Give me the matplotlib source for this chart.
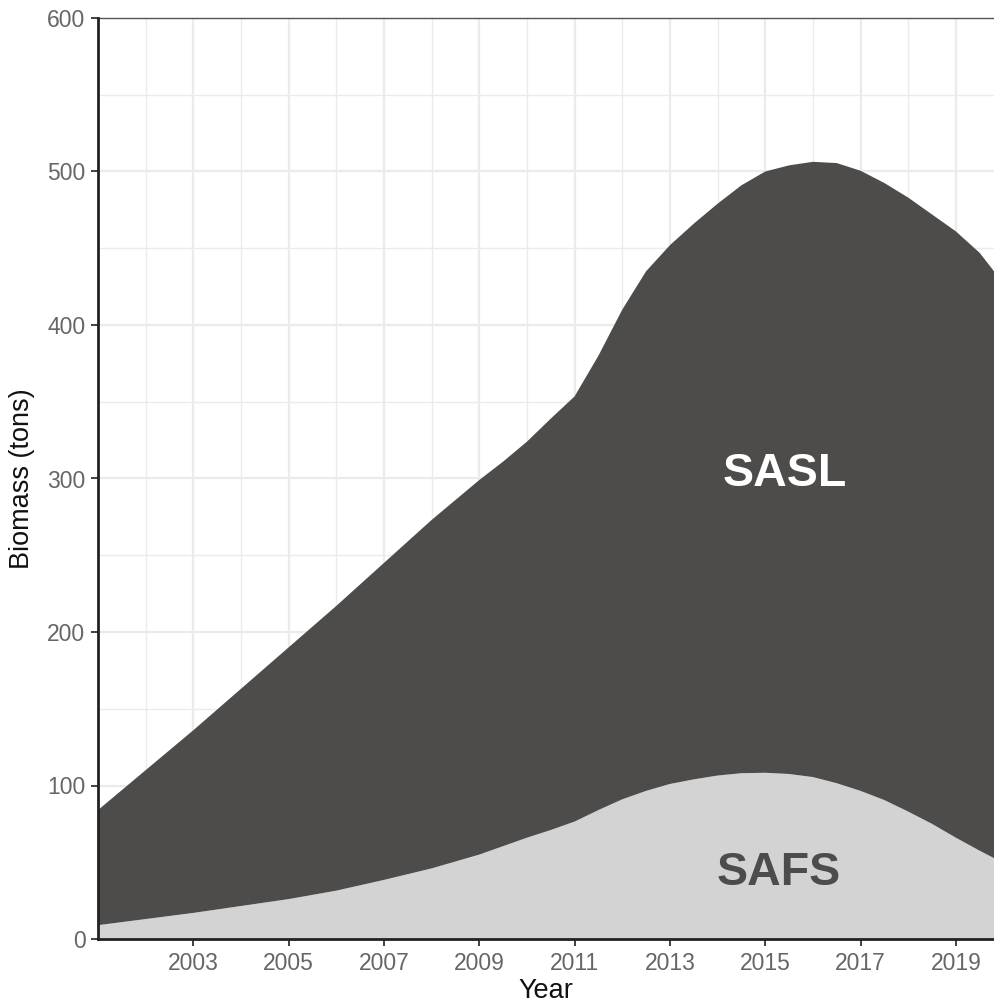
import matplotlib
matplotlib.use("Agg")
import matplotlib.pyplot as plt
import numpy as np

plt.rcParams['font.family'] = ['Liberation Sans', 'DejaVu Sans']

years = [2001, 2002, 2003, 2004, 2005, 2006, 2007, 2008, 2008.5, 2009,
         2009.5, 2010, 2010.5, 2011, 2011.5, 2012, 2012.5, 2013, 2013.5, 2014,
         2014.5, 2015, 2015.5, 2016, 2016.5, 2017, 2017.5, 2018, 2018.5, 2019,
         2019.5, 2019.8]
safs = [9, 13, 17, 21.5, 26, 31.5, 38.5, 46, 50.5, 55,
        60.5, 66, 71, 76.5, 84, 91, 96.5, 101, 104, 106.5,
        108, 108.3, 107.5, 105.5, 101.5, 96.5, 90.5, 83, 75, 66,
        57.5, 52.7]
sasl = [75, 97, 119, 141.5, 164, 185.5, 206.5, 227, 235.5, 244,
        250.5, 258, 268, 277, 296, 319, 338.5, 351, 362, 372.5,
        383, 391.7, 396.5, 400.8, 404, 404, 402, 400, 397, 395,
        389.5, 382.3]
series_names = ["SAFS", "SASL"]
x_ticks = [2003, 2005, 2007, 2009, 2011, 2013, 2015, 2017, 2019]
y_ticks = [0, 100, 200, 300, 400, 500, 600]

fig = plt.figure(figsize=(9.94, 10.05), dpi=100)
ax = fig.add_axes([98/994, 1-939/1005, 1-98/994, (939-18)/1005])

ax.set_xlim(2001, 2019.8)
ax.set_ylim(0, 600)

# grid
for yv in np.arange(50, 600, 100):
    ax.axhline(yv, color='#EBEBEB', lw=1.0, zorder=0)
for yv in y_ticks:
    ax.axhline(yv, color='#EBEBEB', lw=1.6, zorder=0)
for xv in range(2002, 2020, 2):
    ax.axvline(xv, color='#EBEBEB', lw=1.0, zorder=0)
for xv in x_ticks:
    ax.axvline(xv, color='#EBEBEB', lw=1.6, zorder=0)

ax.stackplot(years, safs, sasl, colors=['#D3D3D3', '#4D4C4A'],
             labels=series_names, zorder=2, lw=0, antialiased=True)

ax.text(2015.4, 303, "SASL", color='white', fontsize=33.5, fontweight='bold',
        ha='center', va='center', zorder=3)
ax.text(2015.28, 43, "SAFS", color='#4D4C4A', fontsize=33.5, fontweight='bold',
        ha='center', va='center', zorder=3)

ax.set_xticks(x_ticks)
ax.set_xticklabels([str(v) for v in x_ticks])
ax.set_yticks(y_ticks)
ax.set_yticklabels([str(v) for v in y_ticks])
ax.tick_params(axis='both', length=5, width=1.3, color='#333333',
               labelcolor='#666666', labelsize=16.5, pad=4)

ax.spines['right'].set_visible(False)
ax.spines['top'].set_color('#555555')
ax.spines['top'].set_linewidth(1.0)
for s in ['left', 'bottom']:
    ax.spines[s].set_color('#222222')
    ax.spines[s].set_linewidth(2.0)
    ax.spines[s].set_zorder(4)

ax.set_xlabel("Year", fontsize=19.5, color='#111111', labelpad=2.5)
ax.set_ylabel("Biomass (tons)", fontsize=19.5, color='#111111', labelpad=9)

fig.savefig("out.png", dpi=100)
